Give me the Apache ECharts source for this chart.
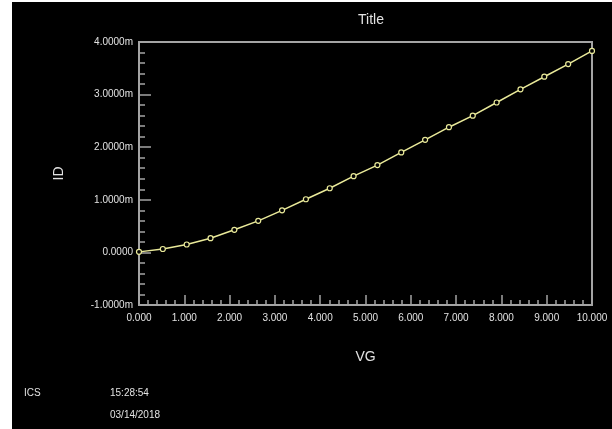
<!DOCTYPE html>
<html>
<head>
<meta charset="utf-8">
<script src="https://cdn.jsdelivr.net/npm/echarts@6/dist/echarts.min.js"></script>
<style>
  html, body { margin: 0; padding: 0; background: #ffffff; }
  #frame { position: absolute; left: 12px; top: 2px; width: 600px; height: 427px; background: #000; }
  #chart { position: absolute; left: -12px; top: -2px; width: 612px; height: 429px; }
</style>
</head>
<body>
<div id="frame"><div id="chart"></div></div>
<script>
// Drain current ID (mA) swept against gate voltage VG (V)
const vgValues = [0, 0.526, 1.053, 1.579, 2.105, 2.632, 3.158, 3.684, 4.211, 4.737,
                  5.263, 5.789, 6.316, 6.842, 7.368, 7.895, 8.421, 8.947, 9.474, 10];
const idValues = [0.01, 0.065, 0.15, 0.27, 0.43, 0.60, 0.80, 1.01, 1.22, 1.45,
                  1.66, 1.90, 2.14, 2.38, 2.60, 2.85, 3.10, 3.34, 3.58, 3.83];
const xTicks = { min: 0, max: 10, step: 1 };
const yTicks = { min: -1, max: 4, step: 1 };

const axisGray = '#a4a4a4';
const textColor = '#e2e2e2';
const font = 'Liberation Sans, Arial, sans-serif';

const chart = echarts.init(document.getElementById('chart'), null, { renderer: 'canvas' });
chart.setOption({
  backgroundColor: 'transparent',
  animation: false,
  title: {
    text: 'Title', left: 366, top: 8, textAlign: 'center',
    textStyle: { color: textColor, fontSize: 14, fontWeight: 'normal', fontFamily: font }
  },
  grid: {
    left: 139, right: 20, top: 42, bottom: 124,
    show: true, borderColor: axisGray, borderWidth: 2, backgroundColor: 'transparent'
  },
  xAxis: {
    type: 'value', min: xTicks.min, max: xTicks.max, interval: xTicks.step,
    name: 'VG', nameLocation: 'middle', nameGap: 45,
    nameTextStyle: { color: textColor, fontSize: 14, fontFamily: font },
    axisLine: { show: true, onZero: false, lineStyle: { color: axisGray, width: 2 } },
    axisTick: { show: true, inside: true, length: 10, lineStyle: { color: axisGray, width: 1.5 } },
    minorTick: { show: true, splitNumber: 5, length: 5, lineStyle: { color: axisGray, width: 1.5 } },
    splitLine: { show: false },
    axisLabel: {
      color: textColor, fontSize: 10, fontFamily: font, margin: 8,
      formatter: v => v.toFixed(3)
    }
  },
  yAxis: {
    type: 'value', min: yTicks.min, max: yTicks.max, interval: yTicks.step,
    name: 'ID', nameLocation: 'middle', nameGap: 73, nameRotate: 90,
    nameTextStyle: { color: textColor, fontSize: 14, fontFamily: font },
    axisLine: { show: true, onZero: false, lineStyle: { color: axisGray, width: 2 } },
    axisTick: { show: true, inside: true, length: 12, lineStyle: { color: axisGray, width: 1.5 } },
    minorTick: { show: true, splitNumber: 5, length: 6, lineStyle: { color: axisGray, width: 1.5 } },
    splitLine: { show: false },
    axisLabel: {
      color: textColor, fontSize: 10, fontFamily: font, margin: 6,
      formatter: v => v === 0 ? '0.0000' : v.toFixed(4) + 'm'
    }
  },
  series: [{
    type: 'line',
    data: vgValues.map((x, i) => [x, idValues[i]]),
    smooth: false,
    symbol: 'circle', symbolSize: 5,
    lineStyle: { color: '#eaea9a', width: 1.5 },
    itemStyle: { color: '#000000', borderColor: '#eaea9a', borderWidth: 1.2 },
    clip: false
  }],
  graphic: [
    { type: 'text', left: 24, top: 388, style: { text: 'ICS', fill: textColor, font: '10px ' + font } },
    { type: 'text', left: 110, top: 388, style: { text: '15:28:54', fill: textColor, font: '10px ' + font } },
    { type: 'text', left: 110, top: 410, style: { text: '03/14/2018', fill: textColor, font: '10px ' + font } }
  ]
});
</script>
</body>
</html>
